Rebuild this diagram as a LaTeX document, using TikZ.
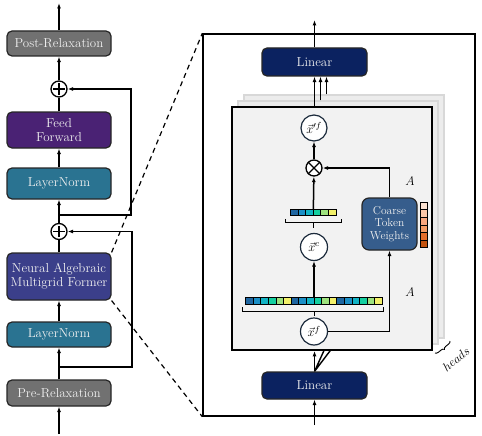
\RequirePackage{fix-cm}
\documentclass[tikz,border=0pt]{standalone}
\usepackage{amsmath}
\usepackage{amssymb}
\usepackage{fontspec}
\usetikzlibrary{arrows.meta,calc,decorations.pathreplacing,positioning}

\definecolor{relaxgray}{HTML}{717171}
\definecolor{ffpurple}{HTML}{4A2274}
\definecolor{lnteal}{HTML}{2A7391}
\definecolor{namfblue}{HTML}{3B3F8A}
\definecolor{linnavy}{HTML}{0B2260}
\definecolor{ctwblue}{HTML}{365D8C}
\definecolor{sheetfill}{HTML}{F2F2F2}
\definecolor{backfill}{HTML}{ECECEC}
\definecolor{backline}{HTML}{D8D8D8}
\definecolor{ringline}{HTML}{1C2B3C}
% token colours
\definecolor{tokA}{HTML}{1F66A1}
\definecolor{tokB}{HTML}{1B8FC6}
\definecolor{tokC}{HTML}{12B3C4}
\definecolor{tokD}{HTML}{14CFA0}
\definecolor{tokE}{HTML}{9EE27E}
\definecolor{tokF}{HTML}{F2F06A}
% weight colours
\definecolor{heatA}{HTML}{FDE3D2}
\definecolor{heatB}{HTML}{FBC6A8}
\definecolor{heatC}{HTML}{F8A67E}
\definecolor{heatD}{HTML}{F39A64}
\definecolor{heatE}{HTML}{E46D2A}
\definecolor{heatF}{HTML}{C2520F}

\tikzset{
    block/.style={draw=black!85, line width=1.2pt, rounded corners=5pt,
        text=white!94!black, inner sep=0pt, align=center,
        font=\fontsize{13}{14}\selectfont},
    sumop/.style={circle, draw, line width=1.3pt, fill=white,
        minimum size=16pt, inner sep=0pt},
    vecop/.style={circle, draw=ringline, line width=1.2pt, fill=white,
        minimum size=26pt, inner sep=0pt, font=\fontsize{12.5}{13}\selectfont},
    flow/.style={line width=1.5pt, -{Latex[length=5.5pt,width=4pt]}},
    sheet/.style={minimum width=200pt, minimum height=243pt, inner sep=0pt},
    cellbar/.style={inner sep=0pt, minimum height=6.5pt},
    bracket/.style={line width=0.9pt},
}

\begin{document}
\begin{tikzpicture}[x=1pt, y=-1pt]
    \useasboundingbox (0,0) rectangle (482,436);

    %% left column
    \node[block, fill=relaxgray, minimum width=104pt, minimum height=25pt] (post) at (59,43.5) {Post-Relaxation};
    \node[sumop] (sum1) at (59,89) {};
    \node[block, fill=ffpurple, minimum width=104pt, minimum height=36pt] (ff) at (59,130) {Feed\\Forward};
    \node[block, fill=lnteal, minimum width=104pt, minimum height=31pt] (ln1) at (59,183.5) {LayerNorm};
    \node[sumop] (sum2) at (59,231.5) {};
    \node[block, fill=namfblue, minimum width=104pt, minimum height=47pt] (namf) at (59,276.5) {Neural Algebraic\\Multigrid Former};
    \node[block, fill=lnteal, minimum width=104pt, minimum height=25pt] (ln2) at (59,334.5) {LayerNorm};
    \node[block, fill=relaxgray, minimum width=104pt, minimum height=26pt] (pre) at (59,393) {Pre-Relaxation};

    \foreach \s in {sum1,sum2}
        \draw[line width=1.1pt] ($(\s.north)+(0,3)$) -- ($(\s.south)+(0,-3)$)
                                ($(\s.west)+(3,0)$) -- ($(\s.east)+(-3,0)$);

    \coordinate (outtop) at (59,3);
    \coordinate (inbot) at (59,434);
    \coordinate (res1) at (59,215);
    \coordinate (skip1) at (131,150);
    \coordinate (res2) at (59,367);
    \coordinate (skip2) at (132,300);

    \draw[flow] (post) -- (outtop);
    \draw[flow] (sum1) -- (post);
    \draw[flow] (ln1) -- (ff);
    \draw[flow] (sum2) -- (ln1);
    \draw[flow] (ln2) -- (namf);
    \draw[flow] (pre) -- (ln2);
    \draw[flow] (inbot) -- (pre);
    \draw[line width=1.5pt] (ff) -- (sum1) (namf) -- (sum2);
    %% residual paths
    \draw[flow] (res1) -| (skip1) |- (sum1);
    \draw[flow] (res2) -| (skip2) |- (sum2);

    %% zoomed block
    \node[draw, line width=1.4pt, fill=white, inner sep=0pt,
        minimum width=272pt, minimum height=382pt] (big) at (339,225) {};
    \draw[line width=1.2pt, dash pattern=on 5pt off 4pt]
        (namf.north east) -- (big.north west)
        (namf.south east) -- (big.south west);

    \node[block, fill=linnavy, minimum width=105pt, minimum height=28pt] (lintop) at (314.5,62) {Linear};
    \node[block, fill=linnavy, minimum width=105pt, minimum height=27pt] (linbot) at (314.5,385.5) {Linear};

    %% heads, back to front
    \node[sheet, draw=backline, line width=1.2pt, fill=backfill] (sheetC) at (344,216.5) {};
    \node[sheet, draw=backline, line width=1.2pt, fill=backfill] (sheetB) at (338,222.5) {};
    \coordinate (feedB) at ($(linbot |- sheetB.south)+(9,7)$);
    \coordinate (feedC) at ($(linbot |- sheetC.south)+(15,13)$);
    \draw[line width=1.4pt] (linbot.north) -- ($(linbot.north)!1.6!(feedB)$)
                            (linbot.north) -- ($(linbot.north)!1.6!(feedC)$);
    \node[sheet, draw, line width=1.8pt, fill=sheetfill] (sheetA) at (332,228.5) {};

    \coordinate (outbig) at (314.5,20);
    \coordinate (inbig) at (314.5,425);
    \draw[flow] (lintop) -- (outbig);
    \draw[flow] (sheetA.north -| lintop) -- (lintop);
    \draw[flow] ($(sheetB.north -| lintop)+(6,0)$) -- ($(lintop.south)+(6,0)$);
    \draw[flow] ($(sheetC.north -| lintop)+(12,0)$) -- ($(lintop.south)+(12,0)$);
    \draw[flow] (inbig) -- (linbot);
    \draw[flow] (linbot) -- (linbot |- sheetA.south);

    \draw[decorate, decoration={brace, amplitude=3pt}, line width=0.9pt]
        (450,341) -- (435,353);
    \node[rotate=40, font=\fontsize{12.5}{13}\selectfont] (heads) at (456,359) {$heads$};

    %% inside one head
    \node[vecop] (xpf) at (314,128) {$\vec{x}'^{f}$};
    \node[sumop] (mul) at (314,168) {};
    \draw[line width=1.1pt] (mul.north west) -- (mul.south east)
                            (mul.north east) -- (mul.south west);
    \node[cellbar, minimum width=45.6pt] (sbar) at (313.3,212.3) {};
    \node[vecop, minimum size=27pt] (xc) at (314,247) {$\vec{x}^{c}$};
    \node[cellbar, minimum width=136.8pt] (lbar) at (314,300.75) {};
    \node[vecop, minimum size=27pt] (xf) at (314,331.5) {$\vec{x}^{f}$};
    \node[block, fill=ctwblue, rounded corners=7pt, minimum width=55pt, minimum height=52pt,
        font=\fontsize{11.5}{12.5}\selectfont] (ctw) at (389.5,224) {Coarse\\Token\\Weights};
    \node[inner sep=0pt, minimum width=6.5pt, minimum height=45.6pt] (heat) at (424.2,225) {};

    \foreach \col [count=\i from 0] in {tokA,tokB,tokC,tokD,tokE,tokF}
        \draw[line width=0.6pt, fill=\col] ($(sbar.north west)+(7.6*\i,0)$) rectangle ++(7.6,6.5);
    \foreach \k in {0,1,2}
        \foreach \col [count=\i from 0] in {tokA,tokB,tokC,tokD,tokE,tokF}
            \draw[line width=0.6pt, fill=\col] ($(lbar.north west)+(45.6*\k+7.6*\i,0)$) rectangle ++(7.6,6.5);
    \foreach \col [count=\i from 0] in {heatA,heatB,heatC,heatD,heatE,heatF}
        \draw[line width=0.6pt, fill=\col] ($(heat.north west)+(0,7.6*\i)$) rectangle ++(6.5,7.6);

    % brackets under the token rows
    \draw[bracket] ($(sbar.south west)+(-5,3)$) -- ++(0,4) -- ($(sbar.south east)+(5,7)$) -- ++(0,-4);
    \draw[bracket] ($(sbar.south)+(0,7)$) -- ++(0,5);
    \draw[bracket] ($(lbar.south west)+(-3,3)$) -- ++(0,4) -- ($(lbar.south east)+(1,7)$) -- ++(0,-4);
    \draw[bracket] ($(lbar.south)+(0,7)$) -- ++(0,5);

    \draw[flow] (mul) -- (xpf);
    \draw[flow] (sbar) -- (mul);
    \draw[flow] (lbar) -- (xc);
    \draw[flow] (xf.east) -| (ctw.south);
    \draw[flow] (ctw.north) |- (mul);

    \node[font=\fontsize{12.5}{13}\selectfont] (wtop) at (410,181) {$A$};
    \node[font=\fontsize{12.5}{13}\selectfont] (wbot) at (410,292) {$A$};
\end{tikzpicture}
\end{document}
